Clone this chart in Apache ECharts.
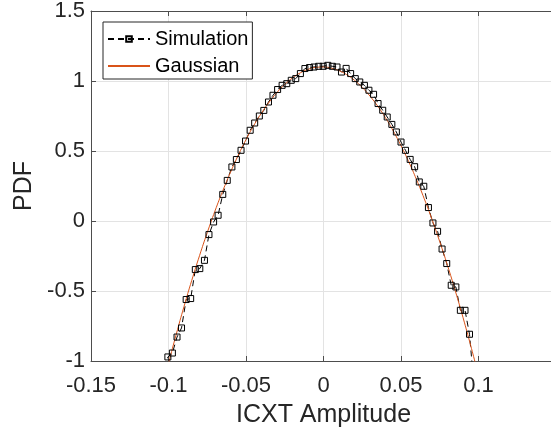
<!DOCTYPE html>
<html>
<head>
<meta charset="utf-8">
<script src="https://cdn.jsdelivr.net/npm/echarts@6/dist/echarts.min.js"></script>
<style>
  html, body { margin: 0; padding: 0; background: #fff; }
  #main { width: 551px; height: 435px; }
</style>
</head>
<body>
<div id="main"></div>
<script>
// simulated histogram (log PDF)
const simX = [-0.1033, -0.1004, -0.0975, -0.0945, -0.0916, -0.0886, -0.0857, -0.0827, -0.0798, -0.0768,
  -0.0739, -0.0709, -0.0680, -0.0650, -0.0621, -0.0591, -0.0562, -0.0532, -0.0503, -0.0473,
  -0.0444, -0.0414, -0.0385, -0.0355, -0.0326, -0.0296, -0.0267, -0.0237, -0.0208, -0.0179,
  -0.0149, -0.0120, -0.0090, -0.0061, -0.0031, -0.0002, 0.0028, 0.0057, 0.0087, 0.0116,
  0.0146, 0.0175, 0.0205, 0.0234, 0.0264, 0.0293, 0.0323, 0.0352, 0.0382, 0.0411,
  0.0441, 0.0470, 0.0500, 0.0529, 0.0559, 0.0588, 0.0618, 0.0647, 0.0677, 0.0706,
  0.0736, 0.0765, 0.0795, 0.0824, 0.0854, 0.0883, 0.0913, 0.0942, 0.0972];
const simY = [-1.12, -0.971, -0.943, -0.829, -0.764, -0.561, -0.554, -0.347, -0.340, -0.281,
  -0.097, -0.007, 0.041, 0.19, 0.29, 0.386, 0.439, 0.505, 0.571, 0.648,
  0.70, 0.75, 0.79, 0.85, 0.898, 0.939, 0.969, 0.981, 1.005, 1.017,
  1.053, 1.089, 1.096, 1.100, 1.105, 1.105, 1.112, 1.105, 1.100, 1.064,
  1.090, 1.053, 1.017, 0.993, 0.969, 0.934, 0.905, 0.839, 0.791, 0.743,
  0.690, 0.636, 0.564, 0.505, 0.440, 0.388, 0.279, 0.248, 0.096, -0.014,
  -0.074, -0.200, -0.304, -0.459, -0.471, -0.638, -0.638, -0.809, -1.19];

// fitted gaussian curve
const gaussX = [-0.105, -0.100, -0.095, -0.090, -0.085, -0.080, -0.075, -0.070, -0.065, -0.060,
  -0.055, -0.050, -0.045, -0.040, -0.035, -0.030, -0.025, -0.020, -0.015, -0.010,
  -0.005, 0.000, 0.005, 0.010, 0.015, 0.020, 0.025, 0.030, 0.035, 0.040,
  0.045, 0.050, 0.055, 0.060, 0.065, 0.070, 0.075, 0.080, 0.085, 0.090,
  0.095, 0.100];
const gaussY = [-1.236, -1.017, -0.809, -0.611, -0.424, -0.248, -0.083, 0.072, 0.215, 0.348,
  0.470, 0.581, 0.682, 0.771, 0.850, 0.918, 0.976, 1.022, 1.058, 1.083,
  1.097, 1.100, 1.092, 1.074, 1.045, 1.005, 0.954, 0.892, 0.820, 0.737,
  0.643, 0.538, 0.423, 0.296, 0.159, 0.011, -0.148, -0.317, -0.498, -0.689,
  -0.891, -1.103];

const xTicks = [-0.15, -0.1, -0.05, 0, 0.05, 0.1];
const yTicks = [-1, -0.5, 0, 0.5, 1, 1.5];

const font = "'Liberation Sans', Arial, sans-serif";
const axisCol = '#4d4d4d';
const textCol = '#262626';

const chart = echarts.init(document.getElementById('main'));
const option = {
    animation: false,
    backgroundColor: '#fff',
    textStyle: { fontFamily: font },
    grid: { left: 91, right: -5, top: 11, bottom: 74, outerBoundsMode: 'none' },
    legend: {
        data: ['Simulation', { name: 'Gaussian', itemStyle: { opacity: 0 } }],
        orient: 'vertical',
        left: 103,
        top: 22,
        backgroundColor: '#fff',
        borderColor: '#262626',
        borderWidth: 1,
        padding: [6, 4, 2, 4],
        itemWidth: 42,
        itemHeight: 7,
        itemGap: 5,
        textStyle: { fontFamily: font, fontSize: 20, color: '#000', lineHeight: 22 }
    },
    xAxis: [{
        type: 'value',
        min: -0.15,
        max: 0.15,
        interval: 0.05,
        name: 'ICXT Amplitude',
        nameLocation: 'middle',
        nameGap: 42,
        nameTextStyle: { fontFamily: font, fontSize: 25, color: textCol },
        axisLine: { onZero: false, lineStyle: { color: axisCol, width: 1 } },
        axisTick: { inside: true, length: 5, lineStyle: { color: axisCol } },
        axisLabel: {
            fontFamily: font, fontSize: 22, color: textCol, margin: 14,
            formatter: v => xTicks.some(t => Math.abs(t - v) < 1e-9) ? String(Math.round(v * 100) / 100) : ''
        },
        splitLine: { show: true, lineStyle: { color: '#e3e3e3', width: 1 } }
    }, {
        type: 'value',
        position: 'top',
        min: -0.15,
        max: 0.15,
        interval: 0.05,
        axisLine: { onZero: false, lineStyle: { color: axisCol, width: 1 } },
        axisTick: { inside: true, length: 5, lineStyle: { color: axisCol } },
        axisLabel: { show: false },
        splitLine: { show: false }
    }],
    yAxis: {
        type: 'value',
        min: -1,
        max: 1.5,
        interval: 0.5,
        name: 'PDF',
        nameLocation: 'middle',
        nameGap: 49,
        nameTextStyle: { fontFamily: font, fontSize: 25, color: textCol },
        axisLine: { show: true, onZero: false, lineStyle: { color: axisCol, width: 1 } },
        axisTick: { show: true, inside: true, length: 5, lineStyle: { color: axisCol } },
        axisLabel: {
            fontFamily: font, fontSize: 22, color: textCol, margin: 6,
            formatter: v => yTicks.some(t => Math.abs(t - v) < 1e-9) ? String(v) : ''
        },
        splitLine: { show: true, lineStyle: { color: '#e3e3e3', width: 1 } }
    },
    series: [{
        name: 'Simulation',
        type: 'line',
        data: simX.map((x, i) => [x, simY[i]]),
        symbol: 'rect',
        symbolSize: 6,
        showAllSymbol: true,
        clip: true,
        itemStyle: { color: 'rgba(255,255,255,0)', borderColor: '#000', borderWidth: 1 },
        lineStyle: { color: '#000', width: 1, type: [6, 4] },
        emphasis: { disabled: true }
    }, {
        name: 'Gaussian',
        type: 'line',
        data: gaussX.map((x, i) => [x, gaussY[i]]),
        symbol: 'none',
        smooth: true,
        clip: true,
        itemStyle: { color: '#D95319' },
        lineStyle: { color: '#D95319', width: 1 },
        emphasis: { disabled: true }
    }]
};

window.addEventListener('resize', () => chart.resize());
chart.setOption(option);
</script>
</body>
</html>
